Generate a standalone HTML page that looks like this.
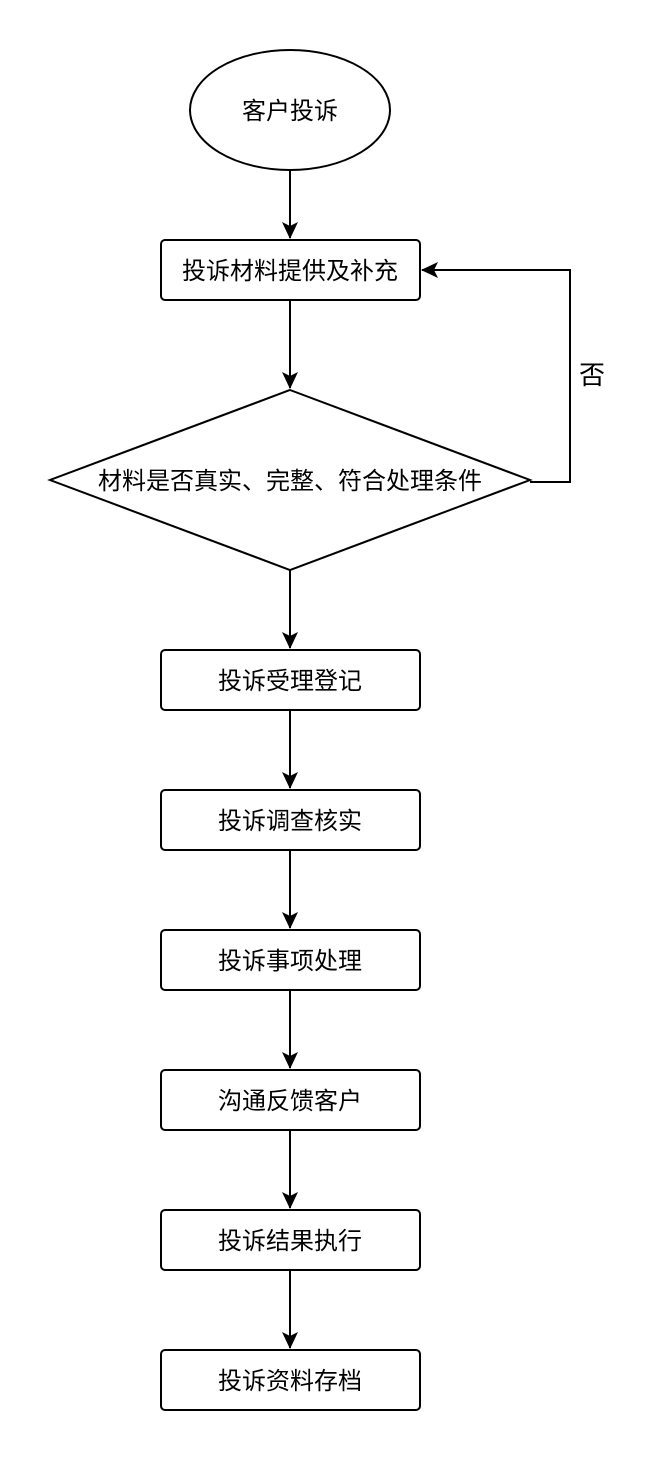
<!DOCTYPE html>
<html><head><meta charset="utf-8"><style>
html,body{margin:0;padding:0;background:#fff;}
svg text{font-family:"Liberation Sans","Noto Sans CJK SC",sans-serif;font-size:24px;fill:#000;}
</style></head><body>
<svg width="654" height="1462" viewBox="0 0 654 1462" xmlns="http://www.w3.org/2000/svg">
<defs>
<marker id="b" markerWidth="18" markerHeight="18" refX="16" refY="9" orient="auto" markerUnits="userSpaceOnUse" viewBox="0 0 18 18"><path d="M0,1 L17,9 L0,17 L4,9 Z" fill="#000"/></marker></defs>
<g stroke="#000" stroke-width="2" fill="none">
<ellipse cx="290" cy="110" rx="100" ry="60" fill="#fff"/>
<rect x="161" y="240" width="259" height="60" rx="4" fill="#fff"/>
<polygon points="290,390 530,480 290,570 50,480" fill="#fff"/>
<rect x="161" y="650" width="259" height="60" rx="4" fill="#fff"/>
<rect x="161" y="790" width="259" height="60" rx="4" fill="#fff"/>
<rect x="161" y="930" width="259" height="60" rx="4" fill="#fff"/>
<rect x="161" y="1070" width="259" height="60" rx="4" fill="#fff"/>
<rect x="161" y="1210" width="259" height="60" rx="4" fill="#fff"/>
<rect x="161" y="1350" width="259" height="60" rx="4" fill="#fff"/>
<line x1="290" y1="170" x2="290" y2="238" marker-end="url(#b)"/>
<line x1="290" y1="300" x2="290" y2="388" marker-end="url(#b)"/>
<line x1="290" y1="570" x2="290" y2="648" marker-end="url(#b)"/>
<line x1="290" y1="710" x2="290" y2="788" marker-end="url(#b)"/>
<line x1="290" y1="850" x2="290" y2="928" marker-end="url(#b)"/>
<line x1="290" y1="990" x2="290" y2="1068" marker-end="url(#b)"/>
<line x1="290" y1="1130" x2="290" y2="1208" marker-end="url(#b)"/>
<line x1="290" y1="1270" x2="290" y2="1348" marker-end="url(#b)"/>
<polyline points="530,482 570,482 570,270 422,270" marker-end="url(#b)"/>
</g>
<g text-anchor="middle">
<text x="290" y="119">客户投诉</text>
<text x="290" y="279">投诉材料提供及补充</text>
<text x="290" y="489">材料是否真实、完整、符合处理条件</text>
<text x="290" y="689">投诉受理登记</text>
<text x="290" y="829">投诉调查核实</text>
<text x="290" y="969">投诉事项处理</text>
<text x="290" y="1109">沟通反馈客户</text>
<text x="290" y="1249">投诉结果执行</text>
<text x="290" y="1389">投诉资料存档</text>
<text x="592" y="384" style="font-size:26px">否</text>
</g>
</svg>
</body></html>
